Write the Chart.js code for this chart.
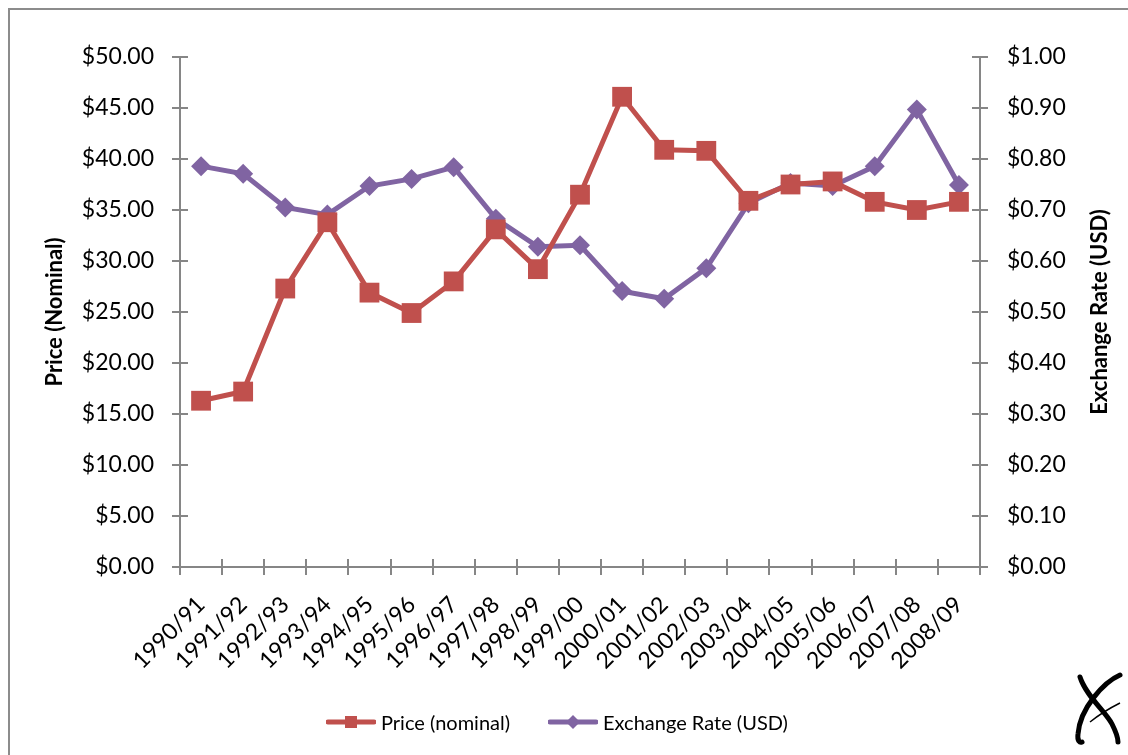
<!DOCTYPE html>
<html>
<head>
<meta charset="utf-8">
<script src="https://cdn.jsdelivr.net/npm/chart.js@4.4.0/dist/chart.umd.min.js"></script>
<style>
    html, body { margin: 0; padding: 0; background: #fff; }
    #wrap { position: relative; width: 1128px; height: 755px; overflow: hidden; font-family: Lato, sans-serif; }
    #frame { position: absolute; left: 8px; top: 8px; width: 1300px; height: 900px;
             border-left: 2px solid #8c8c8c; border-top: 2px solid #8c8c8c; }
    #chart { position: absolute; left: 0; top: 0; }
    .legend { position: absolute; left: 326px; top: 710px; display: flex; align-items: center;
              font-size: 20px; color: #000; }
    .legend .item { display: flex; align-items: center; margin-right: 38px; }
    .legend svg { margin-right: 5px; }
    #logo { position: absolute; left: 1068px; top: 668px; }
</style>
</head>
<body>
<div id="wrap">
    <div id="frame"></div>
    <canvas id="chart" width="1128" height="755"></canvas>
    <div class="legend">
        <div class="item">
            <svg width="50" height="20"><line x1="2" y1="10" x2="48" y2="10" stroke="#C0504D" stroke-width="5" stroke-linecap="round"/><rect x="19" y="4" width="12" height="12" fill="#C0504D"/></svg>
            <span>Price (nominal)</span>
        </div>
        <div class="item">
            <svg width="50" height="20"><line x1="2" y1="10" x2="48" y2="10" stroke="#8064A2" stroke-width="5" stroke-linecap="round"/><polygon points="25,3 32,10 25,17 18,10" fill="#8064A2"/></svg>
            <span>Exchange Rate (USD)</span>
        </div>
    </div>
    <svg id="logo" width="60" height="85" viewBox="0 0 60 85">
        <path d="M52 7 C36 14, 12 40, 10 66 C9 73, 12 75, 14 74" fill="none" stroke="#000" stroke-width="5" stroke-linecap="round"/>
        <path d="M12 9 C18 28, 38 44, 44 56 C48 64, 50 70, 50 74" fill="none" stroke="#000" stroke-width="5" stroke-linecap="round"/>
        <path d="M22 54 C32 46, 42 40, 52 35" fill="none" stroke="#000" stroke-width="1.5"/>
    </svg>
</div>
<script>
// Marketing years
const seasons = ['1990/91', '1991/92', '1992/93', '1993/94', '1994/95', '1995/96', '1996/97',
    '1997/98', '1998/99', '1999/00', '2000/01', '2001/02', '2002/03', '2003/04', '2004/05',
    '2005/06', '2006/07', '2007/08', '2008/09'];

// Nominal price ($)
const priceNominal = [16.3, 17.2, 27.3, 33.8, 26.9, 24.9, 28.0, 33.1, 29.2, 36.5,
    46.1, 40.9, 40.8, 35.9, 37.5, 37.8, 35.8, 35.0, 35.8];

// Exchange rate (USD)
const exchangeRate = [0.786, 0.771, 0.705, 0.691, 0.747, 0.761, 0.784, 0.683, 0.628, 0.631,
    0.541, 0.526, 0.586, 0.713, 0.753, 0.747, 0.786, 0.897, 0.749];

const axisGray = '#868686';
const tickFont = { family: 'Lato', size: 23 };

// Excel-style "cross" tick marks plus axis titles
const axisExtras = {
    id: 'axisExtras',
    afterDraw(chart) {
        const { ctx, scales } = chart;
        const x = scales.x, y = scales.y, y1 = scales.y1;
        ctx.save();
        ctx.strokeStyle = axisGray;
        ctx.lineWidth = 2;
        ctx.beginPath();
        y.ticks.forEach(t => {
            const py = Math.round(y.getPixelForValue(t.value));
            ctx.moveTo(x.left - 8, py); ctx.lineTo(x.left + 8, py);
        });
        y1.ticks.forEach(t => {
            const py = Math.round(y1.getPixelForValue(t.value));
            ctx.moveTo(x.right - 8, py); ctx.lineTo(x.right + 8, py);
        });
        for (let i = 0; i <= seasons.length; i++) {
            const px = Math.round(x.getPixelForValue(i - 0.5));
            ctx.moveTo(px, y.bottom - 8); ctx.lineTo(px, y.bottom + 8);
        }
        ctx.stroke();

        ctx.fillStyle = '#000';
        ctx.font = 'bold 22px Lato';
        ctx.textAlign = 'center';
        ctx.textBaseline = 'middle';
        const midY = (y.top + y.bottom) / 2;
        ctx.translate(55, midY);
        ctx.rotate(-Math.PI / 2);
        ctx.fillText('Price (Nominal)', 0, 0);
        ctx.setTransform(1, 0, 0, 1, 0, 0);
        ctx.translate(1100, midY);
        ctx.rotate(-Math.PI / 2);
        ctx.fillText('Exchange Rate (USD)', 0, 0);
        ctx.restore();
    }
};

new Chart(document.getElementById('chart'), {
    type: 'line',
    data: {
        labels: seasons,
        datasets: [{
            label: 'Price (nominal)',
            data: priceNominal,
            yAxisID: 'y',
            borderColor: '#C0504D',
            backgroundColor: '#C0504D',
            borderWidth: 5,
            pointStyle: 'rect',
            pointRadius: 14,
            pointBorderWidth: 0,
            tension: 0
        }, {
            label: 'Exchange Rate (USD)',
            data: exchangeRate,
            yAxisID: 'y1',
            borderColor: '#8064A2',
            backgroundColor: '#8064A2',
            borderWidth: 5,
            pointStyle: 'rectRot',
            pointRadius: 10,
            pointBorderWidth: 0,
            tension: 0
        }]
    },
    options: {
        responsive: false,
        animation: false,
        layout: { padding: { top: 57, left: 0, right: 0, bottom: 0 } },
        plugins: {
            legend: { display: false },
            tooltip: { enabled: false }
        },
        scales: {
            x: {
                offset: true,
                grid: { display: false },
                border: { display: true, color: axisGray, width: 2 },
                ticks: { color: '#000', font: tickFont, maxRotation: 45, minRotation: 45, padding: 16, autoSkip: false },
                afterFit(scale) { scale.height = 188; }
            },
            y: {
                position: 'left',
                min: 0,
                max: 50,
                grid: { display: false },
                border: { display: true, color: axisGray, width: 2 },
                ticks: {
                    stepSize: 5, color: '#000', font: tickFont, padding: 18,
                    callback: v => '$' + v.toFixed(2)
                },
                afterFit(scale) { scale.width = 180; }
            },
            y1: {
                position: 'right',
                min: 0,
                max: 1,
                grid: { display: false },
                border: { display: true, color: axisGray, width: 2 },
                ticks: {
                    stepSize: 0.1, color: '#000', font: tickFont, padding: 19,
                    callback: v => '$' + v.toFixed(2)
                },
                afterFit(scale) { scale.width = 148; }
            }
        }
    },
    plugins: [axisExtras]
});
</script>
</body>
</html>
